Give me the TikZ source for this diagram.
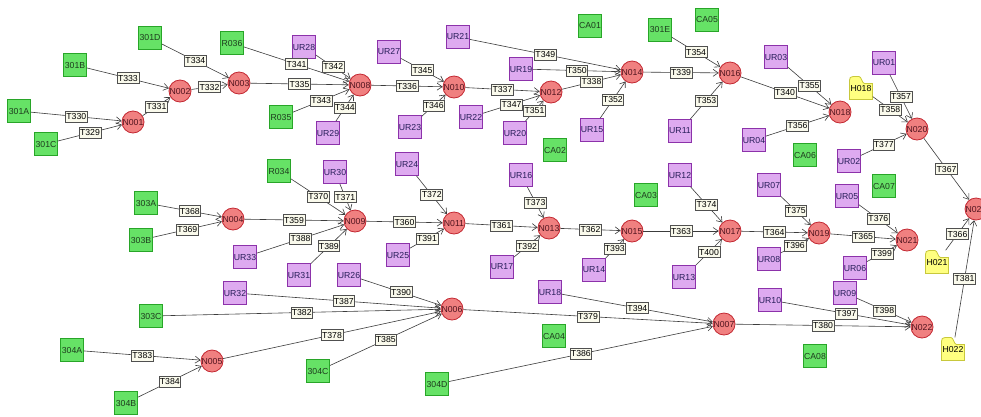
\documentclass[tikz,border=0pt]{standalone}
\usepackage{fontspec}
\setmainfont{Liberation Sans}
\usetikzlibrary{arrows.meta}

\definecolor{srcfill}{RGB}{102,226,102}
\definecolor{srcline}{RGB}{40,165,40}
\definecolor{srctext}{RGB}{30,60,30}
\definecolor{urfill}{RGB}{222,170,240}
\definecolor{urline}{RGB}{140,50,170}
\definecolor{urtext}{RGB}{40,30,90}
\definecolor{jnfill}{RGB}{240,128,128}
\definecolor{jnline}{RGB}{195,40,50}
\definecolor{jntext}{RGB}{80,20,30}
\definecolor{hubfill}{RGB}{255,255,128}
\definecolor{hubline}{RGB}{200,200,60}
\definecolor{lblfill}{RGB}{250,250,236}
\definecolor{lblline}{RGB}{80,80,80}
\definecolor{arrline}{RGB}{60,60,60}

\tikzset{
  src/.style = {rectangle, draw=srcline, fill=srcfill, line width=0.8pt, minimum size=23pt, inner sep=0pt, text=srctext},
  ur/.style  = {rectangle, draw=urline, fill=urfill, line width=0.8pt, minimum size=23pt, inner sep=0pt, text=urtext},
  jn/.style  = {circle, draw=jnline, fill=jnfill, line width=0.8pt, minimum size=22pt, inner sep=0pt, text=jntext},
  hub/.style = {rectangle, minimum size=23pt, inner sep=0pt, text=black},
  hubshape/.style = {draw=hubline, fill=hubfill, line width=0.8pt},
  lbl/.style = {rectangle, draw=lblline, fill=lblfill, line width=0.6pt, inner xsep=1pt, inner ysep=0pt, minimum height=11pt, text=black, pos=0.5},
  arr/.style = {draw=arrline, line width=0.6pt, -{Straight Barb[length=5pt,width=7pt]}}
}

\newcommand{\hubnode}[4]{%
  \filldraw[hubshape, shift={(#2,#3)}] (-11.5,11.5) -- (11.5,11.5) -- (11.5,-4.5) -- (3.5,-4.5)
    .. controls (1,-4.5) and (0.5,-11.5) .. (-2,-11.5) -- (-8,-11.5)
    .. controls (-10.5,-11.5) and (-11.5,-10) .. (-11.5,-8) -- cycle;
  \node[hub] (#1) at (#2,#3) {#4};}

\begin{document}
\begin{tikzpicture}[x=1pt, y=-1pt, every node/.style={font=\fontsize{8.7}{9}\selectfont}]
    \fill[white] (0,0) rectangle (981,416);
    \useasboundingbox (0,0) rectangle (981,416);
    \clip (0,0) rectangle (981,416);

    \node[src] (301A) at (19,111) {301A};
    \node[src] (301B) at (75,65) {301B};
    \node[src] (301C) at (46,144) {301C};
    \node[src] (301D) at (150,38) {301D};
    \node[src] (R036) at (232,43) {R036};
    \node[src] (R035) at (281,117) {R035};
    \node[src] (CA01) at (590,26) {CA01};
    \node[src] (301E) at (660,30) {301E};
    \node[src] (CA05) at (707,20) {CA05};
    \node[src] (CA02) at (555,150) {CA02};
    \node[src] (CA06) at (805,155) {CA06};
    \node[src] (CA07) at (884,186) {CA07};
    \node[src] (CA03) at (646,195) {CA03};
    \node[src] (R034) at (279,171) {R034};
    \node[src] (303A) at (146,203) {303A};
    \node[src] (303B) at (141,240) {303B};
    \node[src] (303C) at (151,316) {303C};
    \node[src] (304A) at (72,350) {304A};
    \node[src] (304B) at (126,403) {304B};
    \node[src] (304C) at (318,371) {304C};
    \node[src] (304D) at (437,384) {304D};
    \node[src] (CA04) at (554,336) {CA04};
    \node[src] (CA08) at (815,356) {CA08};

    \node[ur] (UR28) at (304,47) {UR28};
    \node[ur] (UR29) at (328,133) {UR29};
    \node[ur] (UR27) at (389,52) {UR27};
    \node[ur] (UR21) at (458,37) {UR21};
    \node[ur] (UR23) at (410,127) {UR23};
    \node[ur] (UR22) at (471,117) {UR22};
    \node[ur] (UR19) at (521,69) {UR19};
    \node[ur] (UR20) at (515,133) {UR20};
    \node[ur] (UR15) at (592,130) {UR15};
    \node[ur] (UR11) at (680,131) {UR11};
    \node[ur] (UR03) at (776,57) {UR03};
    \node[ur] (UR04) at (754,140) {UR04};
    \node[ur] (UR01) at (884,63) {UR01};
    \node[ur] (UR02) at (849,161) {UR02};
    \node[ur] (UR30) at (335,172) {UR30};
    \node[ur] (UR24) at (407,164) {UR24};
    \node[ur] (UR33) at (245,257) {UR33};
    \node[ur] (UR31) at (299,275) {UR31};
    \node[ur] (UR26) at (349,275) {UR26};
    \node[ur] (UR25) at (398,255) {UR25};
    \node[ur] (UR16) at (521,175) {UR16};
    \node[ur] (UR17) at (502,267) {UR17};
    \node[ur] (UR14) at (594,270) {UR14};
    \node[ur] (UR12) at (680,175) {UR12};
    \node[ur] (UR13) at (684,277) {UR13};
    \node[ur] (UR07) at (769,185) {UR07};
    \node[ur] (UR08) at (769,259) {UR08};
    \node[ur] (UR05) at (847,196) {UR05};
    \node[ur] (UR06) at (855,268) {UR06};
    \node[ur] (UR32) at (235,293) {UR32};
    \node[ur] (UR18) at (550,292) {UR18};
    \node[ur] (UR10) at (770,300) {UR10};
    \node[ur] (UR09) at (845,293) {UR09};

    \node[jn] (N001) at (133,122) {N001};
    \node[jn] (N002) at (180,91) {N002};
    \node[jn] (N003) at (239,83) {N003};
    \node[jn] (N008) at (360,85) {N008};
    \node[jn] (N010) at (454,87) {N010};
    \node[jn] (N012) at (551,92) {N012};
    \node[jn] (N014) at (632,72) {N014};
    \node[jn] (N016) at (730,73) {N016};
    \node[jn] (N018) at (840,112) {N018};
    \node[jn] (N020) at (917,129) {N020};
    \node[jn] (N023) at (976,209) {N023};
    \node[jn] (N004) at (233,219) {N004};
    \node[jn] (N009) at (355,221) {N009};
    \node[jn] (N011) at (454,223) {N011};
    \node[jn] (N013) at (549,228) {N013};
    \node[jn] (N015) at (632,231) {N015};
    \node[jn] (N017) at (730,231) {N017};
    \node[jn] (N019) at (819,233) {N019};
    \node[jn] (N021) at (907,240) {N021};
    \node[jn] (N005) at (212,361) {N005};
    \node[jn] (N006) at (452,309) {N006};
    \node[jn] (N007) at (724,324) {N007};
    \node[jn] (N022) at (922,327) {N022};

    \hubnode{H018}{861}{88}{H018}
    \hubnode{H021}{937}{262}{H021}
    \hubnode{H022}{953}{349}{H022}

    \draw[arr] (301A) -- node[lbl] {T330} (N001);
    \draw[arr] (301C) -- node[lbl] {T329} (N001);
    \draw[arr] (N001) -- node[lbl] {T331} (N002);
    \draw[arr] (301B) -- node[lbl] {T333} (N002);
    \draw[arr] (N002) -- node[lbl] {T332} (N003);
    \draw[arr] (301D) -- node[lbl] {T334} (N003);
    \draw[arr] (R036) -- node[lbl] {T341} (N008);
    \draw[arr] (UR28) -- node[lbl] {T342} (N008);
    \draw[arr] (N003) -- node[lbl] {T335} (N008);
    \draw[arr] (R035) -- node[lbl] {T343} (N008);
    \draw[arr] (UR29) -- node[lbl] {T344} (N008);
    \draw[arr] (N008) -- node[lbl] {T336} (N010);
    \draw[arr] (UR27) -- node[lbl] {T345} (N010);
    \draw[arr] (UR23) -- node[lbl] {T346} (N010);
    \draw[arr] (UR21) -- node[lbl] {T349} (N014);
    \draw[arr] (UR19) -- node[lbl] {T350} (N014);
    \draw[arr] (N010) -- node[lbl] {T337} (N012);
    \draw[arr] (UR22) -- node[lbl] {T347} (N012);
    \draw[arr] (UR20) -- node[lbl] {T351} (N012);
    \draw[arr] (N012) -- node[lbl] {T338} (N014);
    \draw[arr] (UR15) -- node[lbl] {T352} (N014);
    \draw[arr] (N014) -- node[lbl] {T339} (N016);
    \draw[arr] (301E) -- node[lbl] {T354} (N016);
    \draw[arr] (UR11) -- node[lbl] {T353} (N016);
    \draw[arr] (N016) -- node[lbl] {T340} (N018);
    \draw[arr] (UR03) -- node[lbl] {T355} (N018);
    \draw[arr] (UR04) -- node[lbl] {T356} (N018);
    \draw[arr] (UR01) -- node[lbl] {T357} (N020);
    \draw[arr] (H018) -- node[lbl] {T358} (N020);
    \draw[arr] (UR02) -- node[lbl] {T377} (N020);
    \draw[arr] (N020) -- node[lbl] {T367} (N023);

    \draw[arr] (303A) -- node[lbl] {T368} (N004);
    \draw[arr] (303B) -- node[lbl] {T369} (N004);
    \draw[arr] (N004) -- node[lbl] {T359} (N009);
    \draw[arr] (R034) -- node[lbl] {T370} (N009);
    \draw[arr] (UR30) -- node[lbl] {T371} (N009);
    \draw[arr] (UR33) -- node[lbl] {T388} (N009);
    \draw[arr] (UR31) -- node[lbl] {T389} (N009);
    \draw[arr] (N009) -- node[lbl] {T360} (N011);
    \draw[arr] (UR24) -- node[lbl] {T372} (N011);
    \draw[arr] (UR25) -- node[lbl] {T391} (N011);
    \draw[arr] (N011) -- node[lbl] {T361} (N013);
    \draw[arr] (UR16) -- node[lbl] {T373} (N013);
    \draw[arr] (UR17) -- node[lbl] {T392} (N013);
    \draw[arr] (N013) -- node[lbl] {T362} (N015);
    \draw[arr] (UR14) -- node[lbl] {T393} (N015);
    \draw[arr] (N015) -- node[lbl] {T363} (N017);
    \draw[arr] (UR12) -- node[lbl] {T374} (N017);
    \draw[arr] (UR13) -- node[lbl] {T400} (N017);
    \draw[arr] (N017) -- node[lbl] {T364} (N019);
    \draw[arr] (UR07) -- node[lbl] {T375} (N019);
    \draw[arr] (UR08) -- node[lbl] {T396} (N019);
    \draw[arr] (N019) -- node[lbl] {T365} (N021);
    \draw[arr] (UR05) -- node[lbl] {T376} (N021);
    \draw[arr] (UR06) -- node[lbl] {T399} (N021);
    \draw[arr] (H021) -- node[lbl] {T366} (N023);
    \draw[arr] (H022) -- node[lbl] {T381} (N023);

    \draw[arr] (304A) -- node[lbl] {T383} (N005);
    \draw[arr] (304B) -- node[lbl] {T384} (N005);
    \draw[arr] (UR26) -- node[lbl] {T390} (N006);
    \draw[arr] (UR32) -- node[lbl] {T387} (N006);
    \draw[arr] (303C) -- node[lbl] {T382} (N006);
    \draw[arr] (N005) -- node[lbl] {T378} (N006);
    \draw[arr] (304C) -- node[lbl] {T385} (N006);
    \draw[arr] (N006) -- node[lbl] {T379} (N007);
    \draw[arr] (UR18) -- node[lbl] {T394} (N007);
    \draw[arr] (304D) -- node[lbl] {T386} (N007);
    \draw[arr] (N007) -- node[lbl] {T380} (N022);
    \draw[arr] (UR10) -- node[lbl] {T397} (N022);
    \draw[arr] (UR09) -- node[lbl] {T398} (N022);
\end{tikzpicture}
\end{document}
